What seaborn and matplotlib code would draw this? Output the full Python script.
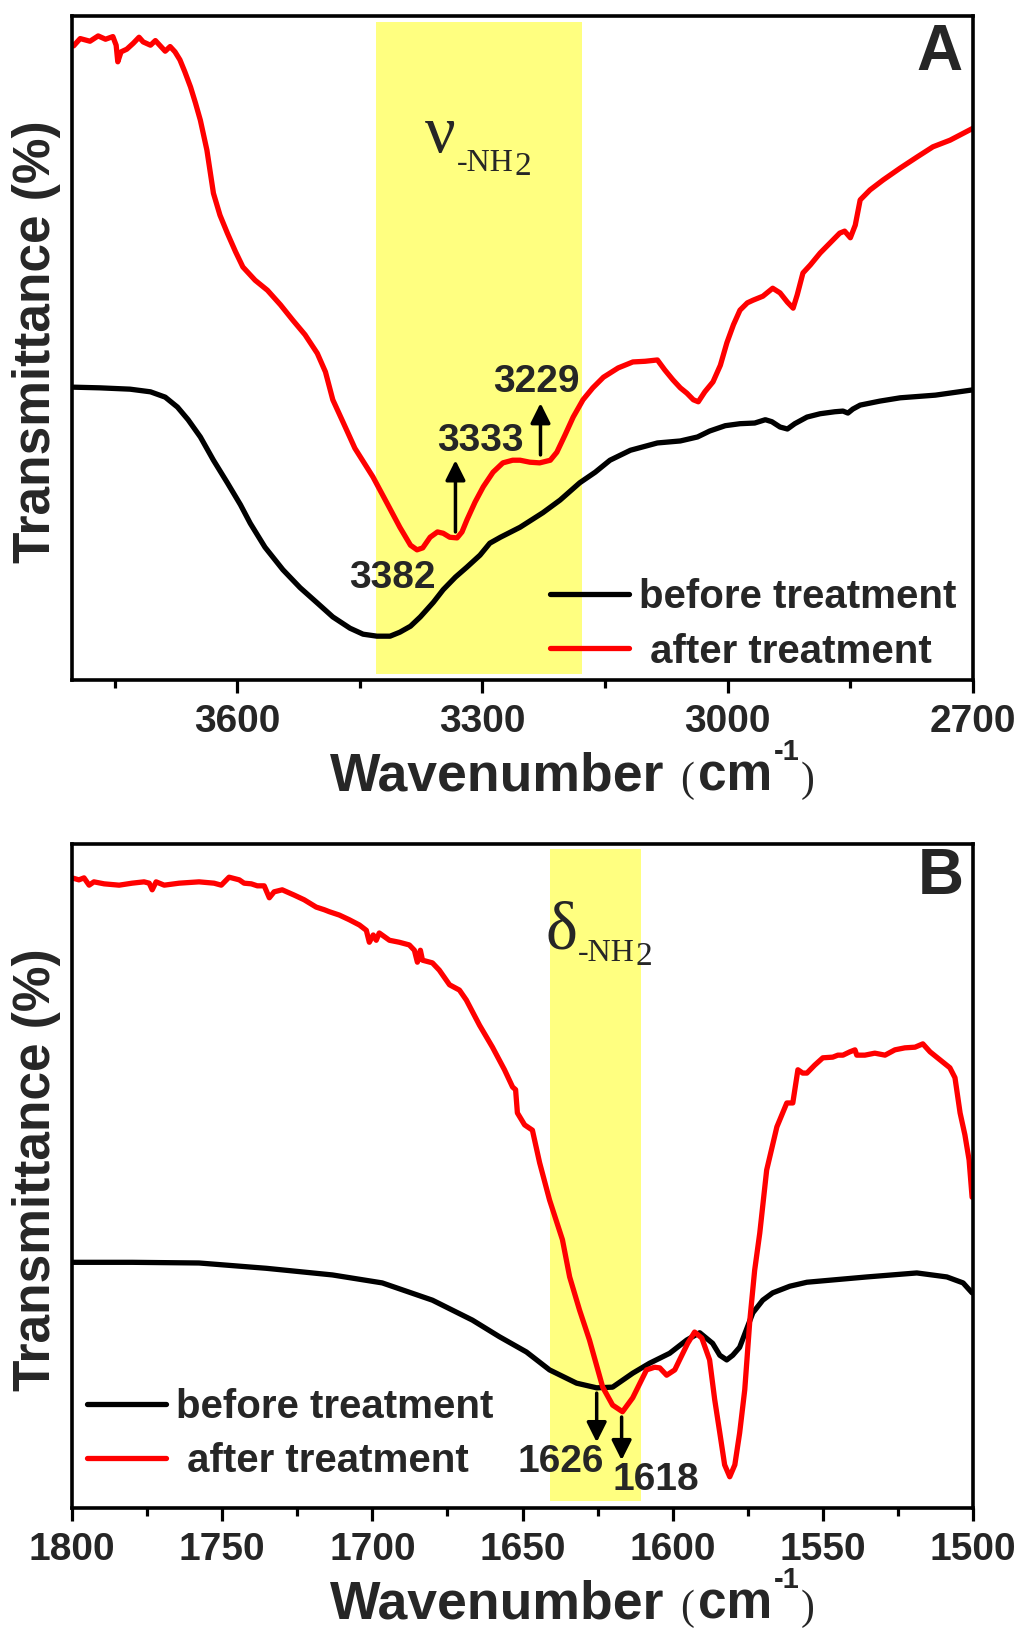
import matplotlib
matplotlib.use("Agg")
import matplotlib.pyplot as plt
import seaborn as sns
import pandas as pd
from matplotlib.ticker import MultipleLocator

# ---------------- Panel A data (wavenumber cm-1, transmittance a.u.) ----------------
a_after_wn = [3800, 3792, 3780, 3770, 3761, 3752, 3748, 3746, 3742, 3735, 3727, 3720, 3715,
              3706, 3700, 3694, 3688, 3682, 3676, 3670, 3664, 3657, 3651, 3645, 3637, 3629,
              3621, 3612, 3602, 3593, 3578, 3563, 3547, 3532, 3517, 3502, 3492, 3483, 3470,
              3456, 3434, 3417, 3401, 3388, 3380, 3373, 3364, 3355, 3348, 3340, 3331, 3325,
              3319, 3309, 3299, 3287, 3275, 3263, 3254, 3242, 3230, 3217, 3209, 3199, 3189,
              3177, 3165, 3152, 3134, 3116, 3101, 3086, 3077, 3067, 3058, 3050, 3042, 3036,
              3028, 3018, 3009, 3001, 2993, 2985, 2976, 2969, 2957, 2945, 2936, 2927, 2920,
              2915, 2908, 2899, 2887, 2875, 2863, 2857, 2850, 2844, 2838, 2826, 2810, 2789,
              2768, 2749, 2728, 2700]
a_after = [95.5, 96.6, 96.2, 97.0, 96.5, 96.9, 95.6, 93.1, 94.6, 95.0, 95.9, 96.8, 96.1,
           95.6, 96.3, 95.5, 94.7, 95.4, 94.6, 93.4, 91.6, 89.3, 86.9, 84.3, 79.8, 73.3,
           70.0, 67.3, 64.5, 62.2, 60.2, 58.7, 56.5, 54.2, 52.0, 49.2, 46.4, 42.2, 38.7,
           34.9, 30.6, 26.7, 23.0, 20.3, 19.6, 19.9, 21.5, 22.3, 22.1, 21.5, 21.4, 22.3,
           24.1, 26.8, 29.1, 31.3, 32.7, 33.1, 33.1, 32.8, 32.7, 33.1, 34.3, 36.9, 39.6,
           42.2, 44.0, 45.6, 47.0, 47.9, 48.0, 48.2, 46.7, 45.2, 44.0, 43.2, 42.2, 41.9,
           43.4, 44.9, 47.4, 50.8, 53.5, 55.7, 56.8, 57.2, 57.8, 59.0, 58.3, 56.9, 56.0,
           58.0, 61.3, 62.5, 64.3, 65.8, 67.3, 67.6, 66.6, 68.5, 72.3, 73.8, 75.3, 77.1,
           78.8, 80.3, 81.3, 83.1]
a_before_wn = [3800, 3768, 3731, 3706, 3688, 3673, 3660, 3645, 3629, 3612, 3596, 3584, 3566,
               3544, 3523, 3502, 3483, 3462, 3446, 3429, 3413, 3401, 3388, 3376, 3360, 3348,
               3333, 3319, 3303, 3291, 3278, 3254, 3226, 3205, 3181, 3162, 3144, 3119, 3086,
               3058, 3037, 3022, 3003, 2985, 2967, 2954, 2946, 2936, 2927, 2918, 2903, 2887,
               2869, 2859, 2853, 2847, 2838, 2814, 2789, 2746, 2700]
a_before = [44.1, 44.0, 43.8, 43.4, 42.6, 41.1, 39.2, 36.6, 33.1, 29.7, 26.4, 23.6, 20.0,
            16.6, 13.9, 11.6, 9.5, 7.8, 6.9, 6.6, 6.6, 7.2, 8.1, 9.5, 11.7, 13.6,
            15.5, 17.0, 18.8, 20.6, 21.5, 23.0, 25.2, 27.1, 29.7, 31.3, 33.1, 34.6, 35.7,
            36.0, 36.6, 37.5, 38.3, 38.6, 38.7, 39.2, 38.9, 38.1, 37.8, 38.6, 39.6, 40.1,
            40.4, 40.5, 40.2, 40.8, 41.4, 42.0, 42.5, 42.9, 43.7]

# ---------------- Panel B data ----------------
b_after_wn = [1800, 1797.7, 1796, 1794.3, 1792.7, 1789.3, 1784.3, 1780, 1776, 1774.3, 1773.3,
              1772, 1769.3, 1764.3, 1757.7, 1752.7, 1750.3, 1747.7, 1744.3, 1742.7, 1740.3,
              1738.3, 1736, 1734.3, 1732.7, 1730, 1726, 1722.7, 1718.7, 1716, 1714.3, 1711,
              1707.7, 1704.3, 1702, 1701, 1699.7, 1698.7, 1697.7, 1694.3, 1691, 1687.7, 1686,
              1685, 1684, 1683.3, 1680, 1677.7, 1674.3, 1671, 1668.7, 1664.3, 1660, 1656,
              1653.3, 1652.3, 1651.7, 1649.3, 1646.7, 1644.3, 1641, 1636.7, 1634.3, 1631,
              1627.7, 1623.3, 1620, 1616.7, 1613.3, 1608.7, 1606, 1604.3, 1602, 1599.3,
              1597.7, 1595, 1592.7, 1590.3, 1587.7, 1586, 1584.3, 1582.7, 1581, 1579.3,
              1577.7, 1576, 1574.3, 1572.7, 1571, 1568.7, 1565.3, 1562, 1560, 1558.3, 1556.7,
              1555.3, 1552.7, 1550, 1546.7, 1545, 1543.3, 1541, 1539.3, 1538.7, 1536, 1532.7,
              1529.3, 1526, 1522.7, 1519.3, 1516.7, 1514.3, 1511, 1507.7, 1506, 1504.3,
              1502.7, 1501.3, 1500.3]
b_after = [94.9, 94.6, 94.9, 93.8, 94.3, 94.0, 93.8, 94.1, 94.3, 94.1, 93.1,
           94.3, 93.8, 94.1, 94.3, 94.1, 93.8, 95.0, 94.6, 94.1, 94.0,
           93.7, 93.7, 91.9, 92.8, 93.1, 92.3, 91.6, 90.5, 90.1, 89.8, 89.3,
           88.6, 87.8, 87.0, 85.2, 86.3, 85.5, 86.6, 85.5, 85.2, 84.8, 84.0,
           82.2, 84.0, 82.5, 82.1, 81.0, 78.8, 78.0, 76.5, 72.7, 69.4, 66.0,
           63.4, 63.0, 59.5, 57.7, 56.9, 52.0, 46.4, 40.4, 34.8, 29.8,
           25.3, 18.2, 15.5, 14.5, 16.6, 20.8, 21.2, 21.1, 20.0, 20.8,
           22.3, 24.8, 26.5, 25.6, 22.3, 16.3, 11.3, 6.5, 4.7, 6.5,
           11.3, 17.8, 28.3, 35.8, 41.4, 50.9, 57.4, 61.0, 61.0, 66.0, 65.5,
           65.5, 66.7, 67.8, 67.9, 68.2, 68.2, 68.7, 69.0, 68.2, 68.2, 68.5,
           68.2, 69.0, 69.3, 69.4, 69.9, 68.7, 67.5, 66.3, 64.8, 59.5,
           56.2, 52.4, 46.8]
b_before_wn = [1800, 1780, 1757.7, 1735.3, 1713.3, 1696.7, 1680, 1666.7, 1657.7, 1648.7, 1641,
               1632, 1625.3, 1620, 1613.3, 1607.7, 1601, 1595.3, 1591, 1586.7, 1584.3, 1582,
               1580, 1577.7, 1573.3, 1570, 1566.7, 1561, 1555.3, 1535.3, 1518.7, 1508.7,
               1503.3, 1500.3]
b_before = [37.0, 37.0, 36.9, 36.1, 35.1, 33.9, 31.3, 28.3, 25.8, 23.5, 20.8,
            18.8, 18.1, 18.2, 20.3, 21.8, 23.3, 25.3, 26.4, 24.8, 23.0, 22.3,
            23.0, 24.2, 29.4, 31.3, 32.4, 33.4, 34.0, 34.8, 35.4, 34.8,
            33.9, 32.4]

legend_labels = ["before treatment", " after treatment"]
a_ticks_major = 300
a_ticks_minor = 150
b_ticks_major = 50
b_ticks_minor = 25

# ---------------- style ----------------
sns.set_theme(style="ticks")
plt.rcParams["font.family"] = ["Liberation Sans", "DejaVu Sans"]
plt.rcParams["font.weight"] = "bold"

W, H = 1026, 1629
fig = plt.figure(figsize=(W / 100, H / 100), dpi=100)
axA = fig.add_axes([72 / W, 1 - 680 / H, 901 / W, 664 / H])
axB = fig.add_axes([72 / W, 1 - 1508 / H, 901 / W, 664 / H])

YELLOW = "#FFFF80"
LW = 3.8
SERIF = "Liberation Serif"


def style_axes(ax, xlim, major, minor):
    ax.set_xlim(*xlim)
    ax.set_ylim(0, 100)
    ax.set_yticks([])
    ax.xaxis.set_major_locator(MultipleLocator(major))
    ax.xaxis.set_minor_locator(MultipleLocator(minor))
    ax.tick_params(axis="x", which="major", direction="out", length=9, width=2.3,
                   labelsize=28, pad=8, bottom=True, top=False, color="black")
    ax.tick_params(axis="x", which="minor", direction="out", length=6, width=2.3,
                   bottom=True, top=False, color="black")
    for lab in ax.get_xticklabels():
        lab.set_fontweight("bold")
    for s in ax.spines.values():
        s.set_visible(True)
        s.set_linewidth(2.6)
        s.set_color("black")
    ax.set_xlabel("")
    # x label built from pieces: bold sans words, thin serif parentheses
    yb = -0.167
    tf = ax.transAxes
    ax.text(0.2863, yb, "Wavenumber", transform=tf, fontsize=38.5, fontweight="bold",
            ha="left", va="baseline", clip_on=False)
    ax.text(0.675, yb, "(", transform=tf, family=SERIF, fontsize=30, fontweight="normal",
            ha="left", va="baseline", clip_on=False)
    ax.text(0.6945, yb, "cm", transform=tf, fontsize=37, fontweight="bold",
            ha="left", va="baseline", clip_on=False)
    ax.text(0.779, yb + 0.046, "-1", transform=tf, fontsize=21, fontweight="bold",
            ha="left", va="baseline", clip_on=False)
    ax.text(0.809, yb, ")", transform=tf, family=SERIF, fontsize=30, fontweight="normal",
            ha="left", va="baseline", clip_on=False)
    ax.set_ylabel("Transmittance (%)", fontsize=37, fontweight="bold")
    ax.yaxis.set_label_coords(-0.012, 0.51)
    ax.set_facecolor("white")


def arrow(ax, x, y0, y1):
    ax.annotate("", xy=(x, y1), xytext=(x, y0),
                arrowprops=dict(arrowstyle="-|>", lw=2.5, color="black",
                                mutation_scale=30, shrinkA=0, shrinkB=0))


def group_label(ax, x, y_greek, y_sub, greek):
    t = ax.text(x, y_greek, greek, transform=ax.transAxes, family=SERIF,
                fontsize=49, fontweight="normal", ha="left", va="baseline")
    s = ax.annotate("-NH", xy=(1, y_sub), xycoords=(t, ax.transAxes),
                    xytext=(1, 0), textcoords="offset points", family=SERIF,
                    fontsize=23, fontweight="normal", ha="left", va="baseline")
    ax.annotate("2", xy=(1, y_sub), xycoords=(s, ax.transAxes),
                xytext=(0, -3), textcoords="offset points", family=SERIF,
                fontsize=24, fontweight="normal", ha="left", va="baseline")


# ---------------- Panel A ----------------
axA.axvspan(3430, 3178, ymin=0.009, ymax=0.991, color=YELLOW, lw=0, zorder=0)
sns.lineplot(x=a_before_wn, y=a_before, ax=axA, color="black", lw=LW, sort=False,
             estimator=None, label=legend_labels[0], solid_joinstyle="round")
sns.lineplot(x=a_after_wn, y=a_after, ax=axA, color="#FF0000", lw=LW, sort=False,
             estimator=None, label=legend_labels[1], solid_joinstyle="round")
style_axes(axA, (3802, 2700), a_ticks_major, a_ticks_minor)
h, l = axA.get_legend_handles_labels()
axA.legend(h, l, loc="upper left", bbox_to_anchor=((550 - 72) / 901, 0.153),
           frameon=False, handlelength=1.95, handletextpad=0.25,
           labelspacing=0.4, borderpad=0, borderaxespad=0,
           prop={"weight": "bold", "size": 29})
arrow(axA, 3333, 22.3, 33.1)
arrow(axA, 3229, 33.9, 41.7)
axA.text(3410, 15.4, "3382", fontsize=28, fontweight="bold", ha="center", va="center")
axA.text(3302, 36.0, "3333", fontsize=28, fontweight="bold", ha="center", va="center")
axA.text(3234, 44.9, "3229", fontsize=28, fontweight="bold", ha="center", va="center")
axA.text(0.963, 0.944, "A", transform=axA.transAxes, fontsize=46, fontweight="bold",
         ha="center", va="center")
group_label(axA, 0.392, 0.795, 0.767, "\u03bd")

# ---------------- Panel B ----------------
axB.axvspan(1640.7, 1610.7, ymin=0.011, ymax=0.992, color=YELLOW, lw=0, zorder=0)
sns.lineplot(x=b_before_wn, y=b_before, ax=axB, color="black", lw=LW, sort=False,
             estimator=None, label=legend_labels[0], solid_joinstyle="round")
sns.lineplot(x=b_after_wn, y=b_after, ax=axB, color="#FF0000", lw=LW, sort=False,
             estimator=None, label=legend_labels[1], solid_joinstyle="round")
style_axes(axB, (1800, 1500), b_ticks_major, b_ticks_minor)
h, l = axB.get_legend_handles_labels()
axB.legend(h, l, loc="upper left", bbox_to_anchor=((87 - 72) / 901, 0.181),
           frameon=False, handlelength=1.95, handletextpad=0.25,
           labelspacing=0.4, borderpad=0, borderaxespad=0,
           prop={"weight": "bold", "size": 29})
arrow(axB, 1625.3, 17.3, 9.9)
arrow(axB, 1617, 13.7, 7.2)
axB.text(1637.3, 6.9, "1626", fontsize=28, fontweight="bold", ha="center", va="center")
axB.text(1605.7, 4.2, "1618", fontsize=28, fontweight="bold", ha="center", va="center")
axB.text(0.964, 0.950, "B", transform=axB.transAxes, fontsize=46, fontweight="bold",
         ha="center", va="center")
group_label(axB, 0.525, 0.843, 0.824, "\u03b4")

fig.savefig("out.png", dpi=100, facecolor="white")
